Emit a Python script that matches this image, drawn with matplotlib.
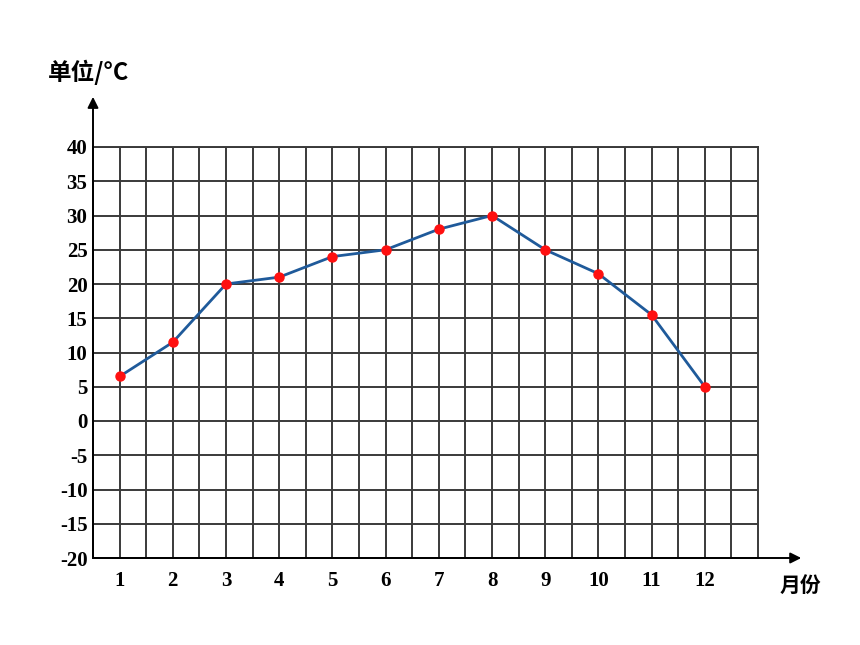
import matplotlib
matplotlib.use('Agg')
import matplotlib.pyplot as plt
import numpy as np

# monthly temperature readings
months = [1, 2, 3, 4, 5, 6, 7, 8, 9, 10, 11, 12]
temps = [6.5, 11.5, 20, 21, 24, 25, 28, 30, 25, 21.5, 15.5, 5]
y_ticks = [-20, -15, -10, -5, 0, 5, 10, 15, 20, 25, 30, 35, 40]

plt.rcParams['font.family'] = ['Noto Sans CJK SC', 'DejaVu Sans']

fig = plt.figure(figsize=(8.6, 6.45), dpi=100)
ax = fig.add_axes([93 / 860, 87 / 645, 665 / 860, 411 / 645])

grid_col = '#3a3a3a'
ax.set_xlim(0.5, 13)
ax.set_ylim(-20, 40)
ax.set_xticks(months)
ax.set_xticklabels([str(m) for m in months], family='Liberation Serif',
                   fontsize=15, fontweight='bold')
ax.set_xticks(np.arange(0.5, 13.01, 1.0), minor=True)
ax.set_yticks(y_ticks)
ax.set_yticklabels([str(v) for v in y_ticks], family='Liberation Serif',
                   fontsize=15, fontweight='bold')
ax.tick_params(which='both', length=0)
ax.tick_params(axis='x', pad=9)
ax.tick_params(axis='y', pad=4)
ax.grid(which='both', color=grid_col, linewidth=1.4)
ax.set_axisbelow(True)
for s in ax.spines.values():
    s.set_color(grid_col)
    s.set_linewidth(1.4)

ax.plot(months, temps, color='#1f5a9a', linewidth=2.0, zorder=3)
ax.plot(months, temps, linestyle='none', marker='o', markersize=6.5,
        color='#ff1010', zorder=4)

# axis arrows
ax.annotate('', xy=(0, 1.122), xytext=(0, 0), xycoords='axes fraction',
            arrowprops=dict(arrowstyle='-|>', color='black', lw=1.4,
                            mutation_scale=16, shrinkA=0, shrinkB=0))
ax.annotate('', xy=(1.065, 0), xytext=(0, 0), xycoords='axes fraction',
            arrowprops=dict(arrowstyle='-|>', color='black', lw=1.4,
                            mutation_scale=16, shrinkA=0, shrinkB=0))

fig.text(0.103, 0.888, '单位/°C', fontsize=17, fontweight='bold',
         ha='center', va='center')
fig.text(0.931, 0.093, '月份', fontsize=15, fontweight='bold',
         ha='center', va='center')

fig.savefig('out.png', dpi=100)
